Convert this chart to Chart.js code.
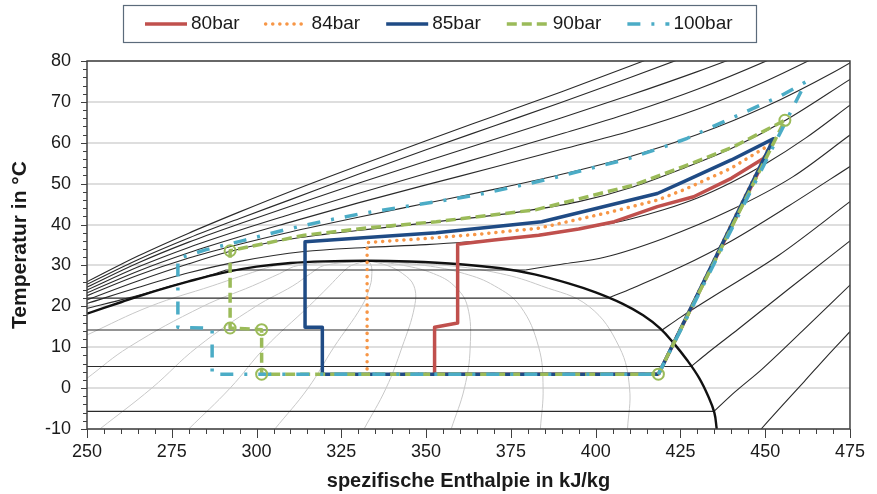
<!DOCTYPE html>
<html lang="de">
<head>
<meta charset="utf-8">
<title>T-h-Diagramm CO2</title>
<script src="https://cdn.jsdelivr.net/npm/chart.js@4.4.1/dist/chart.umd.min.js"></script>
<style>
  html, body { margin: 0; padding: 0; background: #fff; }
  #wrap { width: 877px; height: 494px; }
</style>
</head>
<body>
<div id="wrap"><canvas id="chart" width="877" height="494"></canvas></div>
<script>
// --- Achsen ---
const hMin = 250, hMax = 475, hStep = 25;
const tMin = -10, tMax = 80, tStep = 10;

// --- Kreisprozesse [h in kJ/kg, T in °C] ---
const cycle80 = [[418.5,3.4],[450.2,56.5],[440,51.3],[428.9,46.8],[418.2,44.4],[405.5,40.7],[395,38.9],[383.2,37.4],[370,36.2],[359.3,35.2],[359.3,15.9],[352.5,14.9],[352.5,3.4],[418.5,3.4]];
const cycle84 = [[418.5,3.4],[451.5,59.6],[440,53.8],[426,48.5],[418.2,46.0],[404.6,43.1],[383.2,39.1],[365,37.6],[350,36.6],[332.6,35.6],[332.6,3.4],[418.5,3.4]];
const cycle85 = [[418.5,3.4],[452.5,61.0],[440,55.8],[426,50.5],[418.2,47.6],[384.1,40.7],[353,38.0],[314.3,35.8],[314.3,14.9],[319.4,14.9],[319.4,3.4],[418.5,3.4]];
const cycle90 = [[418.5,3.4],[455.8,65.5],[440.6,59.0],[426,54.2],[411.4,49.7],[382.2,43.6],[353,40.7],[333,39.2],[314.1,37.4],[292.2,33.6],[292.2,14.7],[301.5,14.3],[301.5,3.4],[418.5,3.4]];
const cycle100 = [[418.5,3.4],[462,74.9],[454.2,71.3],[440,66.0],[427,61.1],[420.1,59.0],[408.5,55.8],[398.7,53.8],[387.1,51.3],[376.4,49.3],[364.7,47.2],[353,45.6],[331.6,42.8],[319,40.7],[308.3,38.7],[296.6,36.2],[284.9,33.8],[276.8,31.7],[276.8,14.9],[286.9,14.6],[286.9,3.4],[418.5,3.4]];
const points90 = [[292.2,33.6],[292.2,14.7],[301.5,14.3],[301.5,3.4],[418.5,3.4],[455.8,65.5]];

// --- Isobaren ---
const isobar20 = [[448.8,-10],[455,-4.3],[461.5,1.6],[468,7.6],[475,13.8]];
const isobar30 = [[250,-5.7],[434.9,-5.7],[441,-1.0],[449,4.6],[461,14.0],[475,25.2]];
const isobar40 = [[250,5.3],[428.2,5.3],[433,8.6],[442,14.4],[457,24.3],[475,36.0]];
const isobar50 = [[250,14.2],[419.6,14.2],[425,17.3],[435,22.6],[454,32.5],[475,45.6]];
const isobar60 = [[250,22.0],[403.6,22.0],[411,24.5],[425,29.6],[440,36.0],[457,44.6],[475,54.2]];
const isobar70 = [[250,19.5],[262,22.0],[275,25.0],[285,27.3],[291,28.9],[379.3,28.9],[390,30.3],[402.6,32.0],[420,36.6],[440,43.6],[458,51.6],[475,61.9]];
const isobar80 = [[250,20.7],[265,24.6],[280,28.2],[295,31.0],[314,33.4],[332,34.4],[350,35.1],[370,36.3],[390,38.3],[400,39.6],[410,41.3],[420,43.6],[430,46.5],[440,50.3],[450,54.8],[462,61.2],[475,69.2]];
const isobar90 = [[250,21.6],[265,26.2],[280,30.4],[292,33.4],[305,35.8],[320,37.6],[335,39.0],[352,40.6],[375,42.8],[395,45.6],[411,49.2],[426,53.8],[440,58.6],[456,65.5],[475,75.5]];
const isobar100 = [[250,22.6],[265,27.6],[280,31.8],[295,35.2],[310,38.2],[330,41.8],[350,45.2],[370,48.6],[390,52.3],[410,56.6],[430,62.0],[450,68.8],[470,77.2],[480,82]];
const isobar110 = [[250,23.3],[265,28.6],[280,33.1],[295,37.0],[310,40.6],[330,45.3],[350,49.7],[370,54.0],[390,58.4],[410,62.8],[430,68.2],[450,75.0],[470,83.0]];
const isobar120 = [[250,24.0],[265,29.6],[280,34.4],[295,38.6],[310,42.5],[330,47.6],[350,52.5],[370,57.3],[390,62.2],[410,67.3],[430,73.1],[450,79.9],[470,87.5]];
const isobar130 = [[250,24.7],[265,30.6],[280,35.7],[295,40.2],[310,44.5],[330,50.1],[350,55.5],[370,60.8],[390,66.1],[410,71.6],[430,77.4],[450,83.6]];
const isobar140 = [[250,25.4],[265,31.4],[280,36.7],[295,41.5],[310,46.1],[330,52.3],[350,58.3],[370,64.1],[390,69.9],[410,75.9],[430,82.1]];
const isobar150 = [[250,26.0],[265,32.3],[280,37.9],[295,43.1],[310,48.1],[330,54.4],[350,60.5],[370,66.5],[390,72.5],[410,78.7],[420,81.9]];

// --- Nassdampfgebiet: Grenzkurve und Dampfgehalt x = 0.1 ... 0.9 ---
const dome = [[250,18.2],[260,21.0],[270,23.7],[280,26.1],[290,28.2],[300,29.7],[310,30.6],[320,31.0],[333,31.15],[345,30.95],[360,30.3],[372,29.3],[382,27.8],[392,25.6],[400,23.4],[408,20.6],[414,17.8],[419,14.6],[423,11.0],[427,6.8],[430.5,2.5],[433.2,-2.0],[435,-6.0],[435.7,-10]];
const quality01 = [[250,13.0],[268.6,20],[286.9,25],[297.7,28],[306.2,30],[320,30.9],[333,31.15]];
const quality02 = [[250,2.4],[262.3,10],[284.2,20],[298.8,25],[306.8,28],[312.4,30],[333,31.15]];
const quality03 = [[253.8,-10],[269.1,0],[282.5,10],[299.8,20],[310.7,25],[315.9,28],[320,30],[333,31.15]];
const quality04 = [[280,-10],[292.2,0],[302.6,10],[315.4,20],[321.5,25],[325,28],[328,30],[333,31.15]];
const quality05 = [[305.4,-10],[315.2,0],[322.8,10],[331,20],[333.5,25],[334,28],[333.8,30],[333,31.15]];
const quality06 = [[331.7,-10],[338.2,0],[342.9,10],[346.6,20],[346.4,25],[343.1,28],[338.5,30],[333,31.15]];
const quality07 = [[357.4,-10],[361.3,0],[363,10],[362.2,20],[358.3,25],[352.2,28],[343.4,30],[333,31.15]];
const quality08 = [[383.7,-10],[384.5,0],[383.2,10],[377.8,20],[370.2,25],[361.3,28],[349.6,30],[333,31.15]];
const quality09 = [[409.4,-10],[410,0],[407,10],[398,20],[384,25],[372,28],[356,30],[333,31.15]];

const pts = arr => arr.map(([h, t]) => ({ x: h, y: t }));

// Isobare an den Enden des waagerechten Zweiphasen-Stücks teilen, damit der Knick erhalten bleibt
function splitIsobar(arr) {
    const pieces = [];
    let cur = [arr[0]];
    for (let i = 1; i < arr.length; i++) {
        const flat = arr[i][1] === arr[i - 1][1];
        const prevFlat = i > 1 && arr[i - 1][1] === arr[i - 2][1];
        if (i > 1 && flat !== prevFlat) {
            pieces.push(cur);
            cur = [arr[i - 1]];
        }
        cur.push(arr[i]);
    }
    pieces.push(cur);
    return pieces;
}

Chart.defaults.font.family = '"Liberation Sans", Arial, sans-serif';
Chart.defaults.color = '#1a1a1a';

// --- Datensätze ---
const qualitySets = [quality01, quality02, quality03, quality04, quality05, quality06, quality07, quality08, quality09]
    .map(arr => ({ data: pts(arr), borderColor: '#c8c8c8', borderWidth: 1, tension: 0.4, order: 30 }));

const isobarSets = [isobar20, isobar30, isobar40, isobar50, isobar60, isobar70, isobar80,
                    isobar90, isobar100, isobar110, isobar120, isobar130, isobar140, isobar150]
    .flatMap(splitIsobar)
    .map(arr => ({ data: pts(arr), borderColor: '#2a2a2a', borderWidth: 1.1, cubicInterpolationMode: 'monotone', order: 20 }));

const domeSet = { data: pts(dome), borderColor: '#111', borderWidth: 2.4, tension: 0.4, order: 15 };

const cycleSets = [
    { label: '80bar', data: pts(cycle80), borderColor: '#C0504D', borderWidth: 3.5, order: 5 },
    { label: '84bar', data: pts(cycle84), borderColor: '#F79646', borderWidth: 3.5, borderDash: [0.1, 7], borderCapStyle: 'round', order: 4 },
    { label: '85bar', data: pts(cycle85), borderColor: '#1F4B85', borderWidth: 3.5, order: 3 },
    { label: '90bar', data: pts(cycle90), borderColor: '#9BBB59', borderWidth: 3.5, borderDash: [10, 5], order: 2 },
    { label: '100bar', data: pts(cycle100), borderColor: '#4BACC6', borderWidth: 3.5, borderDash: [13, 11, 3, 11], order: 1 }
];

const markerSet = {
    data: pts(points90), showLine: false, pointRadius: 5.5, pointBorderWidth: 2,
    pointBorderColor: '#9BBB59', pointBackgroundColor: 'rgba(255,255,255,0)', order: 0
};

const allSets = [...qualitySets, ...isobarSets, domeSet, ...cycleSets, markerSet].map(ds => ({
    showLine: true, pointRadius: 0, fill: false, borderJoinStyle: 'round', ...ds
}));

// --- Rahmen, Teilstriche und Legende ---
const frameAndTicks = {
    id: 'frameAndTicks',
    afterDatasetsDraw(chart) {
        const { ctx, chartArea: a, scales: { x, y } } = chart;
        ctx.save();
        ctx.strokeStyle = '#404040';
        ctx.lineWidth = 1.5;
        ctx.strokeRect(a.left, a.top, a.right - a.left, a.bottom - a.top);
        ctx.lineWidth = 1;
        ctx.beginPath();
        for (let i = 0; i <= (hMax - hMin) / 5; i++) {
            const px = Math.round(x.getPixelForValue(hMin + i * 5)) + 0.5;
            const len = (i % 5 === 0) ? 9 : 5;
            ctx.moveTo(px, a.bottom);
            ctx.lineTo(px, a.bottom + len);
        }
        for (let j = 0; j <= (tMax - tMin) / 2; j++) {
            const py = Math.round(y.getPixelForValue(tMin + j * 2)) + 0.5;
            const len = (j % 5 === 0) ? 6 : 4;
            ctx.moveTo(a.left, py);
            ctx.lineTo(a.left - len, py);
        }
        ctx.stroke();
        ctx.restore();
    },
    afterDraw(chart) {
        const ctx = chart.ctx;
        ctx.save();
        ctx.strokeStyle = '#5b6b7b';
        ctx.lineWidth = 1.2;
        ctx.strokeRect(123.5, 5.5, 633, 37);
        ctx.font = '19px "Liberation Sans", Arial, sans-serif';
        ctx.textBaseline = 'middle';
        let lx = 145;
        cycleSets.forEach(ds => {
            ctx.beginPath();
            ctx.setLineDash(ds.borderDash || []);
            ctx.lineCap = ds.borderCapStyle || 'butt';
            ctx.strokeStyle = ds.borderColor;
            ctx.lineWidth = ds.borderWidth;
            ctx.moveTo(lx, 24);
            ctx.lineTo(lx + 42, 24);
            ctx.stroke();
            ctx.setLineDash([]);
            ctx.fillStyle = '#1a1a1a';
            ctx.fillText(ds.label, lx + 46, 24);
            lx += 46 + ctx.measureText(ds.label).width + 26;
        });
        ctx.restore();
    }
};

new Chart(document.getElementById('chart'), {
    type: 'scatter',
    data: { datasets: allSets },
    options: {
        responsive: false,
        devicePixelRatio: 1,
        animation: false,
        layout: { padding: { top: 61, right: 19, left: 0, bottom: 0 } },
        plugins: { legend: { display: false }, tooltip: { enabled: false } },
        scales: {
            x: {
                type: 'linear', min: hMin, max: hMax,
                ticks: { stepSize: hStep, padding: 12, maxRotation: 0, font: { size: 18 }, color: '#1a1a1a' },
                grid: { display: false, drawTicks: false },
                border: { display: false },
                title: { display: true, text: 'spezifische Enthalpie in kJ/kg', font: { size: 20, weight: 'bold' }, color: '#1a1a1a', padding: { top: 0, bottom: 1 } },
                afterFit: s => { s.height = 65; }
            },
            y: {
                type: 'linear', min: tMin, max: tMax,
                ticks: { stepSize: tStep, padding: 16, font: { size: 18 }, color: '#1a1a1a' },
                grid: { color: '#dedede', lineWidth: 2, drawTicks: false },
                border: { display: false },
                title: { display: true, text: 'Temperatur in °C', font: { size: 21, weight: 'bold' }, color: '#1a1a1a', padding: { top: 8, bottom: 0 } },
                afterFit: s => { s.width = 87; }
            }
        }
    },
    plugins: [frameAndTicks]
});
</script>
</body>
</html>
